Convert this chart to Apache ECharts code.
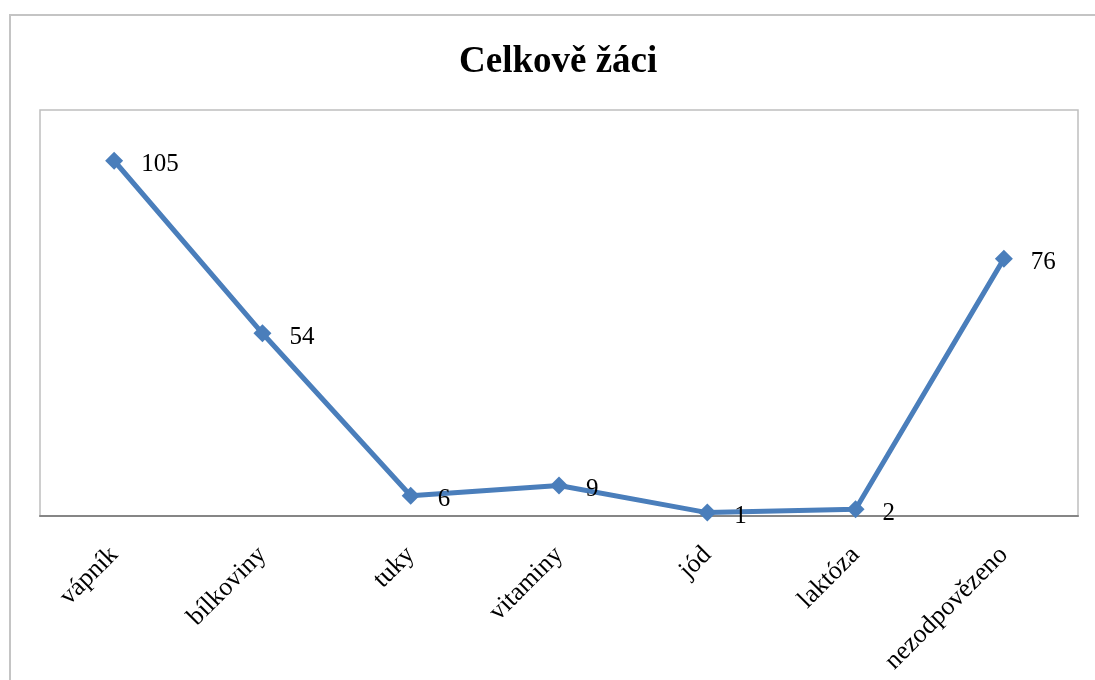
<!DOCTYPE html>
<html>
<head>
<meta charset="utf-8">
<script src="https://cdn.jsdelivr.net/npm/echarts@6/dist/echarts.min.js"></script>
<style>
  html, body { margin: 0; padding: 0; background: #ffffff; }
  #chart { width: 1095px; height: 680px; }
</style>
</head>
<body>
<div id="chart"></div>
<script>
// Categories and counts of pupils
var categories = ['vápník', 'bílkoviny', 'tuky', 'vitaminy', 'jód', 'laktóza', 'nezodpovězeno'];
var values = [105, 54, 6, 9, 1, 2, 76];
var chartTitle = 'Celkově žáci';

var serif = '"Liberation Serif", "Times New Roman", serif';

var chart = echarts.init(document.getElementById('chart'), null, { renderer: 'canvas' });
chart.setOption({
  backgroundColor: '#ffffff',
  animation: false,
  title: {
    text: chartTitle,
    left: 454,
    top: 39,
    textStyle: { fontFamily: serif, fontSize: 37, fontWeight: 'bold', color: '#000000' }
  },
  graphic: [{
    type: 'rect',
    shape: { x: 10, y: 15, width: 1100, height: 700 },
    style: { fill: 'none', stroke: '#c4c4c4', lineWidth: 2 },
    silent: true
  }],
  grid: {
    left: 40, right: 17, top: 110, bottom: 164,
    show: true, borderColor: '#bfbfbf', borderWidth: 1.5, backgroundColor: 'transparent'
  },
  xAxis: {
    type: 'category',
    data: categories,
    boundaryGap: true,
    axisLine: { show: true, lineStyle: { color: '#868686', width: 2 } },
    axisTick: { show: false },
    axisLabel: {
      interval: 0,
      rotate: 45,
      margin: 35,
      fontFamily: serif,
      fontSize: 26,
      color: '#000000'
    }
  },
  yAxis: {
    type: 'value',
    min: 0,
    max: 120,
    show: false,
    splitLine: { show: false }
  },
  series: [{
    type: 'line',
    data: values,
    symbol: 'diamond',
    symbolSize: 18,
    itemStyle: { color: '#4a7ebb' },
    lineStyle: { color: '#4a7ebb', width: 5 },
    label: {
      show: true,
      position: 'right',
      distance: 18,
      offset: [0, 4],
      fontFamily: serif,
      fontSize: 25,
      color: '#000000'
    }
  }]
});
</script>
</body>
</html>
